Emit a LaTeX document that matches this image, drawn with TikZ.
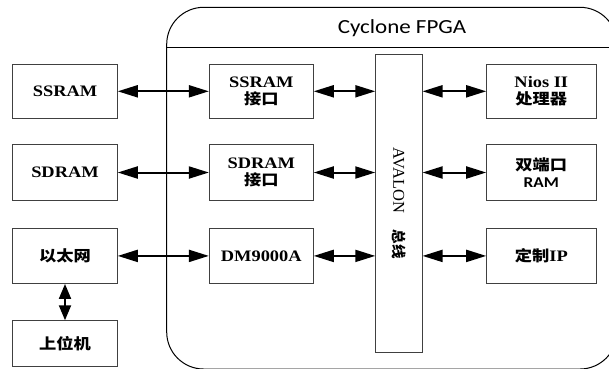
\documentclass[tikz,border=0pt]{standalone}
\usepackage{fontspec}
\setmainfont{Liberation Serif}[FakeStretch=1.15]
\setsansfont{Carlito}[FakeStretch=1.15]
\newfontfamily\cjk{Noto Sans CJK SC}[FakeStretch=1.15]
\newfontfamily\plainserif{Liberation Serif}
\newfontfamily\plaincjk{Noto Sans CJK SC}
\newcommand{\zh}[1]{{\cjk\fontsize{15}{17}\selectfont #1}}
\usetikzlibrary{arrows.meta, positioning}

\begin{document}
\begin{tikzpicture}[x=1pt, y=-1pt,
    box/.style={draw=black!75, line width=0.9pt, align=center,
        font=\fontsize{16}{17}\selectfont\bfseries},
    biarrow/.style={{Triangle[length=20pt, width=12pt]}-{Triangle[length=20pt, width=12pt]},
        line width=2pt},
    vbiarrow/.style={{Triangle[length=15pt, width=12pt]}-{Triangle[length=15pt, width=12pt]},
        line width=2pt}]

    \useasboundingbox (0, 0) rectangle (609, 368);

    % ---------------------------------------------------
    % FPGA outline
    % ---------------------------------------------------
    \begin{scope}
        \clip (0, 0) rectangle (609, 368);
        \draw[line width=1pt, rounded corners=37pt] (166.7, 7.3) rectangle (617, 369);
        \draw[line width=1pt] (166.7, 47.7) -- (617, 47.7);
    \end{scope}
    \node[font=\sffamily\fontsize{20}{22}\selectfont] (title) at (402, 28.5) {Cyclone FPGA};

    % ---------------------------------------------------
    % Outside the FPGA
    % ---------------------------------------------------
    \node[box, minimum width=104.6pt, minimum height=53.5pt] (ssram) at (65, 91.3) {SSRAM};
    \node[box, minimum width=104.6pt, minimum height=56.4pt] (sdram) at (65, 172.5) {SDRAM};
    \node[box, minimum width=104.6pt, minimum height=55.2pt] (eth) at (65, 255.9) {\zh{以太网}};
    \node[box, minimum width=104.6pt, minimum height=46pt] (host) at (65, 343.7) {\zh{上位机}};

    % ---------------------------------------------------
    % Interfaces
    % ---------------------------------------------------
    \node[box, minimum width=104pt, minimum height=53.5pt] (ssramif) at (261.3, 91.3) {SSRAM\\\zh{接口}};
    \node[box, minimum width=104pt, minimum height=56.4pt] (sdramif) at (261.3, 172.5) {SDRAM\\\zh{接口}};
    \node[box, minimum width=104pt, minimum height=55.2pt] (dm) at (261.3, 255.9) {DM9000A};

    % ---------------------------------------------------
    % Bus
    % ---------------------------------------------------
    \node[draw=black!75, line width=0.9pt, minimum width=46.4pt, minimum height=298pt] (bus) at (398.9, 203.3) {};
    \node[rotate=-90, font=\plainserif\fontsize{16.5}{18}\selectfont] (bustext) at (bus.center)
        {AVALON\quad{\plaincjk\bfseries\fontsize{14.5}{18}\selectfont 总线}};

    % ---------------------------------------------------
    % Right column
    % ---------------------------------------------------
    \node[box, minimum width=109.3pt, minimum height=53.5pt] (nios) at (541.3, 91.3) {Nios II\\\zh{处理器}};
    \node[box, minimum width=109.3pt, minimum height=56.4pt] (dpram) at (541.3, 172.5)
        {\zh{双端口}\\{\sffamily\fontsize{15}{17}\selectfont RAM}};
    \node[box, minimum width=109.3pt, minimum height=55.2pt] (ip) at (541.3, 255.9) {\zh{定制}IP};

    % ---------------------------------------------------
    % Connections
    % ---------------------------------------------------
    \draw[biarrow] (ssram.east) -- (ssramif.west);
    \draw[biarrow] (sdram.east) -- (sdramif.west);
    \draw[biarrow] (eth.east) -- (dm.west);
    \draw[vbiarrow] (eth.south) -- (host.north);

    \foreach \a/\b in {ssramif/nios, sdramif/dpram, dm/ip} {
        \draw[biarrow] (\a.east) -- (\a.east -| bus.west);
        \draw[biarrow] (bus.east |- \b.west) -- (\b.west);
    }

\end{tikzpicture}
\end{document}
